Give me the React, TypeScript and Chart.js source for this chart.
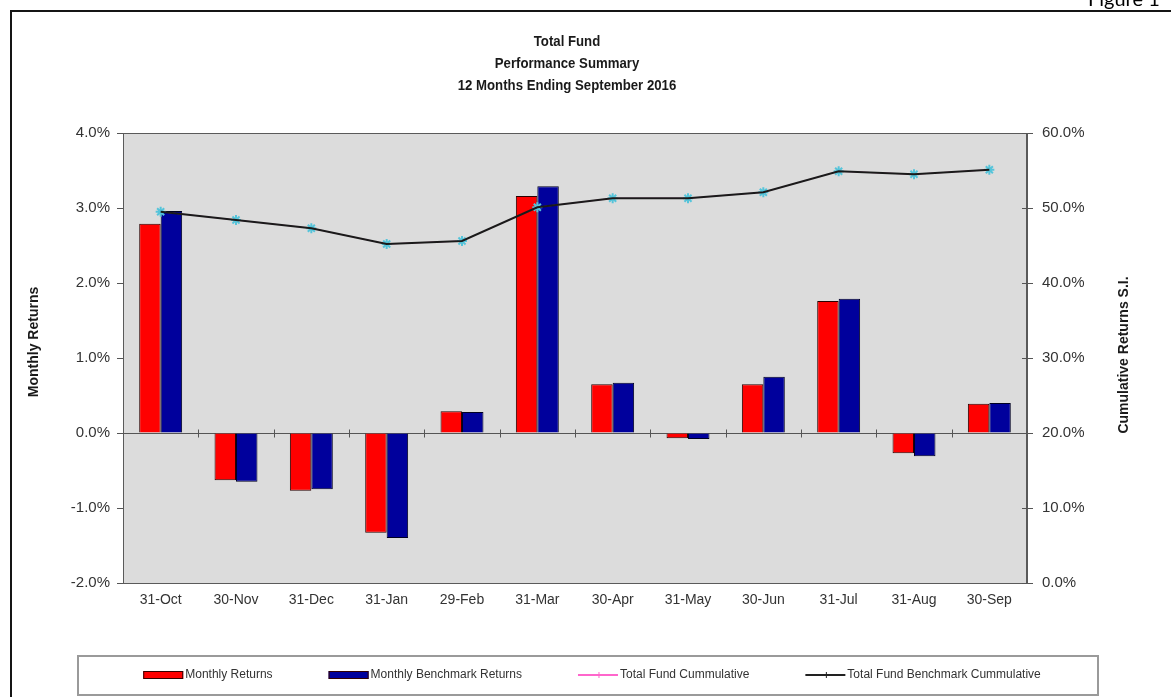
import React, { useEffect, useRef } from 'react';
import { Chart, registerables } from 'chart.js';

Chart.register(...registerables);

const categories = ['31-Oct', '30-Nov', '31-Dec', '31-Jan', '29-Feb', '31-Mar', '30-Apr', '31-May', '30-Jun', '31-Jul', '31-Aug', '30-Sep'];
const monthlyReturns = [2.79, -0.63, -0.77, -1.33, 0.29, 3.16, 0.65, -0.07, 0.65, 1.76, -0.27, 0.39];
const benchmarkReturns = [2.96, -0.65, -0.75, -1.4, 0.28, 3.29, 0.67, -0.08, 0.75, 1.79, -0.31, 0.4];
const fundCumulative = [49.5, 48.4, 47.3, 45.2, 45.6, 50.1, 51.3, 51.3, 52.1, 54.9, 54.5, 55.1];
const benchmarkCumulative = [49.5, 48.4, 47.3, 45.2, 45.6, 50.1, 51.3, 51.3, 52.1, 54.9, 54.5, 55.1];
const titleLines = ['Total Fund', 'Performance Summary', '12 Months Ending September 2016'];
const leftAxisTitle = 'Monthly Returns';
const rightAxisTitle = 'Cumulative Returns S.I.';
const seriesNames = ['Monthly Returns', 'Monthly Benchmark Returns', 'Total Fund Cummulative', 'Total Fund Benchmark Cummulative'];

const FONT = '"Liberation Sans", Arial, sans-serif';

const pct = (v: any) => Number(v).toFixed(1) + '%';

export default function App() {
  const ref = useRef<HTMLCanvasElement>(null);

  useEffect(() => {
    const canvas = ref.current;
    if (!canvas) return;

    const decor = {
      id: 'decor',
      beforeDraw(chart: any) {
        const { ctx, chartArea: a } = chart;
        ctx.save();
        ctx.fillStyle = '#ffffff';
        ctx.fillRect(0, 0, chart.width, chart.height);
        // outer frame
        ctx.strokeStyle = '#151515';
        ctx.lineWidth = 2;
        ctx.strokeRect(11, 11, 1220, 740);
        // figure caption (cut at top)
        ctx.fillStyle = '#000';
        ctx.font = '20px Lato, "Open Sans", sans-serif';
        ctx.textAlign = 'left';
        ctx.textBaseline = 'alphabetic';
        ctx.fillText('Figure 1', 1088, 6);
        // plot background
        ctx.fillStyle = '#dcdcdc';
        ctx.fillRect(a.left, a.top, a.right - a.left, a.bottom - a.top);
        ctx.strokeStyle = '#5a5a5a';
        ctx.lineWidth = 1;
        ctx.strokeRect(a.left + 0.5, a.top + 0.5, a.right - a.left - 1, a.bottom - a.top);
        ctx.restore();
      },
      beforeDatasetsDraw(chart: any) {
        const { ctx, chartArea: a } = chart;
        const y0 = Math.round(chart.scales.y.getPixelForValue(0)) + 0.5;
        const xs = chart.scales.x;
        ctx.save();
        ctx.strokeStyle = '#555';
        ctx.lineWidth = 1;
        ctx.beginPath();
        ctx.moveTo(a.left, y0);
        ctx.lineTo(a.right, y0);
        const n = categories.length;
        const step = (xs.getPixelForValue(1) - xs.getPixelForValue(0));
        for (let i = 1; i < n; i++) {
          const x = Math.round(xs.getPixelForValue(i) - step / 2) + 0.5;
          ctx.moveTo(x, y0 - 4);
          ctx.lineTo(x, y0 + 4);
        }
        const ys = chart.scales.y1;
        for (let v = 0; v <= 60; v += 10) {
          const y = Math.round(ys.getPixelForValue(v)) + 0.5;
          ctx.moveTo(a.right - 5, y);
          ctx.lineTo(a.right, y);
        }
        ctx.stroke();
        ctx.restore();
      },
      afterDraw(chart: any) {
        const { ctx } = chart;
        ctx.save();
        // title (condensed look)
        ctx.fillStyle = '#1a1a1a';
        ctx.textAlign = 'center';
        ctx.textBaseline = 'middle';
        ctx.font = 'bold 15px ' + FONT;
        titleLines.forEach((t, i) => {
          ctx.save();
          ctx.translate(567, 42 + i * 22);
          ctx.scale(0.88, 1);
          ctx.fillText(t, 0, 0);
          ctx.restore();
        });
        // axis titles
        ctx.font = 'bold 14px ' + FONT;
        ctx.save();
        ctx.translate(34, 342);
        ctx.rotate(-Math.PI / 2);
        ctx.fillText(leftAxisTitle, 0, 0);
        ctx.restore();
        ctx.save();
        ctx.translate(1124, 355);
        ctx.rotate(-Math.PI / 2);
        ctx.fillText(rightAxisTitle, 0, 0);
        ctx.restore();

        // legend
        const box = { l: 78, t: 656, r: 1098, b: 695 };
        ctx.strokeStyle = '#9a9a9a';
        ctx.lineWidth = 2;
        ctx.strokeRect(box.l, box.t, box.r - box.l, box.b - box.t);
        ctx.font = '12px ' + FONT;
        const sw = 42;
        const gap = 56;
        const widths = seriesNames.map((s) => sw + ctx.measureText(s).width);
        const total = widths.reduce((p, c) => p + c, 0) + gap * (seriesNames.length - 1);
        let x = 592 - total / 2;
        const cy = 675;
        const ds = chart.data.datasets;
        seriesNames.forEach((name, i) => {
          const d = ds[i];
          if (i < 2) {
            ctx.fillStyle = d.backgroundColor;
            ctx.fillRect(x, cy - 4, sw - 2, 8);
            ctx.strokeStyle = '#300';
            ctx.lineWidth = 1;
            ctx.strokeRect(x + 0.5, cy - 3.5, sw - 3, 7);
          } else {
            ctx.strokeStyle = i === 2 ? '#ff66cc' : '#222';
            ctx.lineWidth = 2;
            ctx.beginPath();
            ctx.moveTo(x, cy);
            ctx.lineTo(x + sw - 2, cy);
            ctx.stroke();
            ctx.lineWidth = 1;
            ctx.beginPath();
            ctx.moveTo(x + sw / 2, cy - 3);
            ctx.lineTo(x + sw / 2, cy + 3);
            ctx.stroke();
          }
          ctx.fillStyle = '#333';
          ctx.textAlign = 'left';
          ctx.textBaseline = 'middle';
          ctx.fillText(name, x + sw, cy);
          x += widths[i] + gap;
        });
        ctx.restore();
      },
    };

    const chart = new Chart(canvas, {
      type: 'bar',
      data: {
        labels: categories,
        datasets: [
          {
            type: 'bar',
            label: seriesNames[0],
            data: monthlyReturns,
            backgroundColor: '#ff0000',
            borderColor: '#2a0000',
            borderWidth: 1,
            yAxisID: 'y',
            order: 2,
            categoryPercentage: 0.57,
            barPercentage: 1.0,
          },
          {
            type: 'bar',
            label: seriesNames[1],
            data: benchmarkReturns,
            backgroundColor: '#00009c',
            borderColor: '#000022',
            borderWidth: 1,
            yAxisID: 'y',
            order: 2,
            categoryPercentage: 0.57,
            barPercentage: 1.0,
          },
          {
            type: 'line',
            label: seriesNames[2],
            data: fundCumulative,
            borderColor: '#ff66cc',
            borderWidth: 1,
            pointStyle: 'star',
            pointRadius: 5,
            pointBorderColor: '#55c4da',
            pointBackgroundColor: '#55c4da',
            pointBorderWidth: 2,
            yAxisID: 'y1',
            order: 1,
          },
          {
            type: 'line',
            label: seriesNames[3],
            data: benchmarkCumulative,
            borderColor: '#1a1a1a',
            borderWidth: 2,
            pointRadius: 0,
            yAxisID: 'y1',
            order: 0,
          },
        ],
      } as any,
      options: {
        animation: false,
        responsive: false,
        layout: { padding: { top: 133, bottom: 74, left: 0, right: 0 } },
        plugins: {
          legend: { display: false },
          title: { display: false },
          tooltip: { enabled: false },
        },
        scales: {
          x: {
            grid: { display: false, drawTicks: false },
            border: { display: true, color: '#5a5a5a' },
            ticks: { font: { size: 14, family: FONT }, color: '#333', padding: 9 },
            afterFit: (s: any) => { s.height = 40; },
          },
          y: {
            position: 'left',
            min: -2,
            max: 4,
            ticks: { stepSize: 1, callback: pct, font: { size: 15, family: FONT }, color: '#333', padding: 7 },
            grid: { drawOnChartArea: false, drawTicks: true, tickLength: 6, color: '#555' },
            border: { display: true, color: '#5a5a5a' },
            afterFit: (s: any) => { s.width = 123; },
          },
          y1: {
            position: 'right',
            min: 0,
            max: 60,
            ticks: { stepSize: 10, callback: pct, font: { size: 15, family: FONT }, color: '#333', padding: 9 },
            grid: { drawOnChartArea: false, drawTicks: true, tickLength: 6, color: '#555' },
            border: { display: true, color: '#5a5a5a' },
            afterFit: (s: any) => { s.width = 144; },
          },
        },
      } as any,
      plugins: [decor],
    });

    return () => chart.destroy();
  }, []);

  return (
    <div style={{ position: 'fixed', left: 0, top: 0, width: 1171, height: 697, background: '#fff' }}>
      <canvas ref={ref} width={1171} height={697} style={{ display: 'block' }} />
    </div>
  );
}
